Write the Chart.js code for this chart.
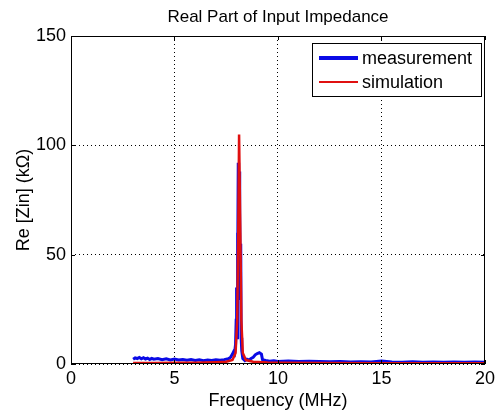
<!DOCTYPE html>
<html>
<head>
<meta charset="utf-8">
<script src="https://cdn.jsdelivr.net/npm/chart.js@4/dist/chart.umd.min.js"></script>
<style>
  html, body { margin: 0; padding: 0; background: #fff; }
  #wrap { width: 499px; height: 413px; }
</style>
</head>
<body>
<div id="wrap"><canvas id="zin" width="499" height="413"></canvas></div>
<script>
// Re[Zin] vs frequency

const xTicks = [0, 5, 10, 15, 20];
const yTicks = [0, 50, 100, 150];

const measFreq = [3.0, 3.1, 3.2, 3.3, 3.4, 3.5, 3.6, 3.7, 3.8, 3.9, 4.0, 4.2, 4.4, 4.6, 4.8, 5.0,
  5.2, 5.4, 5.6, 5.8, 6.0, 6.2, 6.4, 6.6, 6.8, 7.0, 7.2, 7.4, 7.6, 7.7, 7.8, 7.85, 7.9, 7.95,
  7.98, 8.0, 8.02, 8.04, 8.06, 8.08, 8.1, 8.12, 8.14, 8.16, 8.18, 8.2, 8.22, 8.25, 8.3,
  8.4, 8.5, 8.6, 8.7, 8.8, 8.9, 9.0, 9.1, 9.2, 9.25, 9.4, 9.6, 9.8, 10.0, 10.5, 11.0, 11.5,
  12.0, 12.5, 13.0, 13.5, 14.0, 14.5, 15.0, 15.5, 16.0, 16.5, 17.0, 17.5, 18.0, 18.5, 19.0,
  19.5, 20.0];
const measRe = [2.2, 2.8, 2.5, 3.0, 2.4, 2.9, 2.3, 2.7, 2.1, 2.6, 2.2, 2.5, 2.0, 2.4, 1.9, 2.3,
  1.8, 2.1, 1.7, 2.0, 1.6, 1.9, 1.5, 1.8, 1.6, 1.9, 1.7, 2.0, 2.4, 3.0, 4.5, 5.5, 4.8, 9.0,
  20, 35, 12, 60, 40, 92, 50, 88, 45, 70, 30, 55, 12, 6.0, 2.5,
  1.6, 2.2, 1.8, 2.5, 3.0, 4.2, 4.8, 5.2, 4.5, 2.0, 1.6, 1.3, 1.5, 1.2, 1.4, 1.1, 1.3,
  1.2, 1.0, 1.1, 0.9, 1.0, 0.9, 1.4, 0.9, 0.8, 1.0, 0.8, 0.9, 0.8, 0.9, 0.8,
  0.9, 0.8];

const simFreq = [3, 4, 5, 6, 7, 7.5, 7.8, 7.95, 8.03, 8.08, 8.12, 8.14, 8.18, 8.23, 8.3, 8.45,
  8.8, 9.5, 10, 12, 15, 20];
const simRe = [0.5, 0.5, 0.6, 0.6, 0.8, 1.0, 1.8, 5, 20, 60, 105, 105, 60, 20, 5, 1.8,
  1.0, 0.7, 0.6, 0.5, 0.4, 0.3];

const FONT = 'Liberation Sans, Arial, sans-serif';

const toPoints = (xs, ys) => xs.map((x, i) => ({ x: x, y: ys[i] }));

// MATLAB-style frame, inward ticks, title and legend box
const matlabFrame = {
  id: 'matlabFrame',
  afterDraw(chart) {
    const { ctx, chartArea: a, scales } = chart;
    ctx.save();
    ctx.strokeStyle = '#000';
    ctx.lineWidth = 1;
    ctx.strokeRect(a.left + 0.5, a.top + 0.5, a.right - a.left - 1, a.bottom - a.top - 1);
    ctx.beginPath();
    xTicks.forEach(v => {
      const px = Math.round(scales.x.getPixelForValue(v)) + 0.5;
      ctx.moveTo(px, a.bottom); ctx.lineTo(px, a.bottom - 4);
      ctx.moveTo(px, a.top); ctx.lineTo(px, a.top + 4);
    });
    yTicks.forEach(v => {
      const py = Math.round(scales.y.getPixelForValue(v)) + 0.5;
      ctx.moveTo(a.left, py); ctx.lineTo(a.left + 4, py);
      ctx.moveTo(a.right, py); ctx.lineTo(a.right - 4, py);
    });
    ctx.stroke();

    // title
    ctx.fillStyle = '#000';
    ctx.font = '17px ' + FONT;
    ctx.textAlign = 'center';
    ctx.textBaseline = 'middle';
    ctx.fillText('Real Part of Input Impedance', (a.left + a.right) / 2, 17);

    // legend
    const lx = 312, ly = 43, lw = 169, lh = 53;
    ctx.fillStyle = '#fff';
    ctx.fillRect(lx, ly, lw, lh);
    ctx.strokeRect(lx + 0.5, ly + 0.5, lw, lh);
    ctx.font = '18px ' + FONT;
    ctx.textAlign = 'left';
    chart.data.datasets.forEach((ds, i) => {
      const y = ly + 15 + i * 24;
      ctx.strokeStyle = ds.borderColor;
      ctx.lineWidth = i === 0 ? 4 : 2;
      ctx.beginPath();
      ctx.moveTo(lx + 7, y); ctx.lineTo(lx + 46, y);
      ctx.stroke();
      ctx.fillStyle = '#000';
      ctx.fillText(ds.label, lx + 50, y + 1);
    });
    ctx.restore();
  }
};

new Chart(document.getElementById('zin'), {
  type: 'line',
  data: {
    datasets: [
      {
        label: 'measurement',
        data: toPoints(measFreq, measRe),
        borderColor: '#0a0ae6',
        borderWidth: 3,
        pointRadius: 0,
        tension: 0,
        order: 2,
      },
      {
        label: 'simulation',
        data: toPoints(simFreq, simRe),
        borderColor: '#e01010',
        borderWidth: 2.5,
        pointRadius: 0,
        tension: 0,
        order: 1,
      },
    ],
  },
  options: {
    responsive: false,
    animation: false,
    devicePixelRatio: 1,
    layout: { padding: { top: 36, right: 9, left: 0, bottom: 0 } },
    plugins: {
      legend: { display: false },
      tooltip: { enabled: false },
      title: { display: false },
    },
    scales: {
      x: {
        type: 'linear',
        min: 0, max: 20,
        afterBuildTicks: s => { s.ticks = xTicks.map(v => ({ value: v })); },
        afterFit: s => { s.height = 49; },
        ticks: { color: '#000', font: { family: FONT, size: 18 }, padding: 4, maxRotation: 0 },
        grid: { color: '#000', lineWidth: 1, drawTicks: false },
        border: { display: false, dash: [1, 3] },
        title: {
          display: true, text: 'Frequency (MHz)', color: '#000',
          font: { family: FONT, size: 18 }, padding: { top: 0, bottom: 1 },
        },
      },
      y: {
        min: 0, max: 150,
        afterBuildTicks: s => { s.ticks = yTicks.map(v => ({ value: v })); },
        afterFit: s => { s.width = 71; },
        ticks: { color: '#000', font: { family: FONT, size: 18 }, padding: 5 },
        grid: { color: '#000', lineWidth: 1, drawTicks: false },
        border: { display: false, dash: [1, 3] },
        title: {
          display: true, text: 'Re [Zin] (kΩ)', color: '#000',
          font: { family: FONT, size: 18 }, padding: { top: 13, bottom: 0 },
        },
      },
    },
  },
  plugins: [matlabFrame],
});
</script>
</body>
</html>
